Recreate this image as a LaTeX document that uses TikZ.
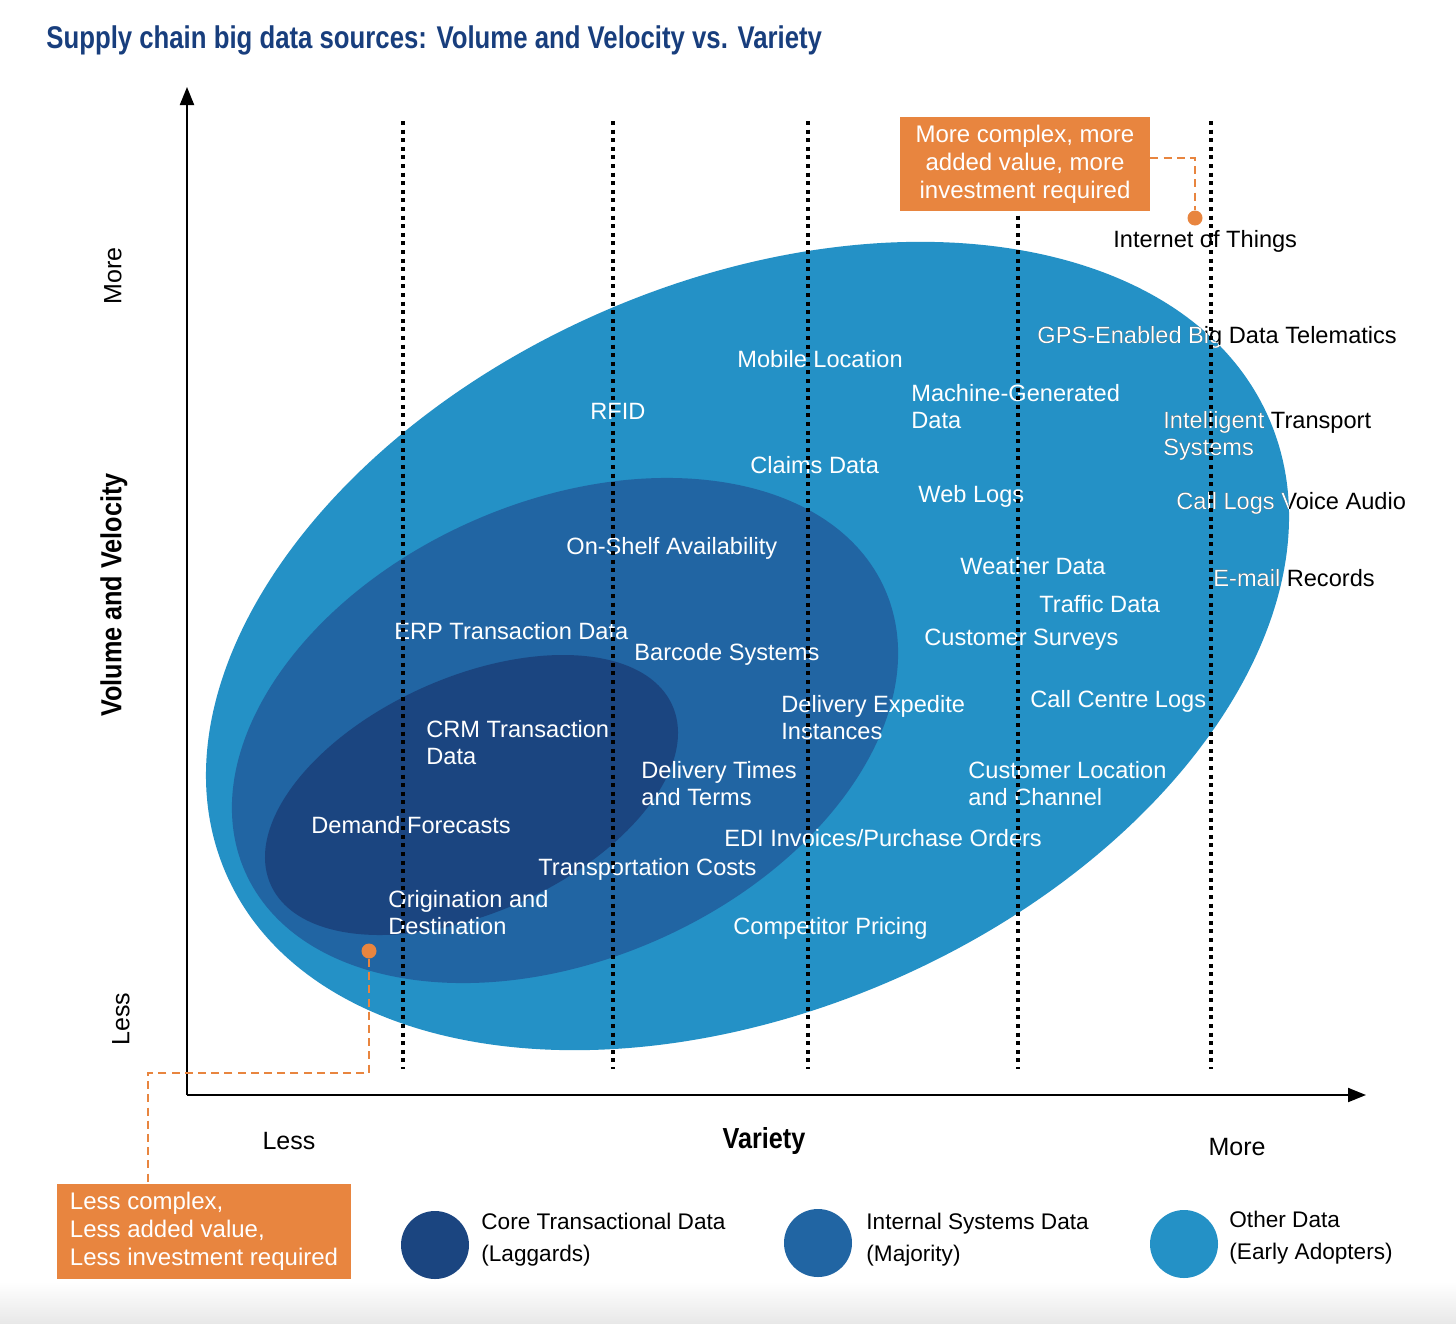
\documentclass[tikz,border=0pt]{standalone}
\usepackage{fontspec}
\setmainfont{Liberation Sans}
\newfontfamily\condfont[FakeStretch=0.87]{Liberation Sans}
\newfontfamily\titlefont[FakeStretch=0.82]{Liberation Sans}
\usetikzlibrary{arrows.meta}
\definecolor{outerc}{HTML}{2491C6}
\definecolor{midc}{HTML}{2165A3}
\definecolor{innerc}{HTML}{1B4580}
\definecolor{orangec}{HTML}{E8853F}
\definecolor{titlec}{HTML}{183E7D}
\begin{document}
\begin{tikzpicture}[x=0.5pt,y=-0.5pt,
  lbl/.style={anchor=west,inner sep=0pt,align=left,text=white,font=\fontsize{11.8}{13.5}\selectfont},
  blbl/.style={lbl,text=black},
  vline/.style={draw=black,line width=1.7pt,dash pattern=on 2pt off 2.3pt},
  axisline/.style={draw=black,line width=1pt,-{Triangle[length=9pt,width=7pt]}},
  obox/.style={fill=orangec,text=white,inner sep=0pt,font=\fontsize{12}{14}\selectfont},
  odash/.style={draw=orangec,line width=1pt,dash pattern=on 4pt off 2.6pt},
  odot/.style={circle,fill=orangec,inner sep=0pt,minimum size=7.5pt},
  axlbl/.style={inner sep=0pt,font=\fontsize{12.5}{14}\selectfont},
  leg/.style={anchor=west,inner sep=0pt,align=left,font=\fontsize{11.3}{16}\selectfont},
  legdot/.style={circle,inner sep=0pt,minimum size=34pt}
]
\useasboundingbox (0,0) rectangle (1456,1323);
\fill[white] (0,0) rectangle (1456,1323);
\shade[top color=white,bottom color=black!9] (0,1282) rectangle (1456,1323);

% title
\node[anchor=west,inner sep=0pt,text=titlec,font=\titlefont\bfseries\fontsize{15.7}{17}\selectfont] (title) at (46,40) {Supply chain big data sources: Volume and Velocity vs. Variety};

% ellipses
\fill[outerc,rotate around={23.6:(747.5,646)}] (747.5,646) ellipse [x radius=284.5pt,y radius=182.15pt];
\fill[midc,rotate around={23.8:(565,730.5)}] (565,730.5) ellipse [x radius=174.85pt,y radius=114.45pt];
\fill[innerc,rotate around={24.05:(471.5,795)}] (471.5,795) ellipse [x radius=109.95pt,y radius=58.9pt];

% labels inside
\node[lbl] (rfid) at (590,411) {RFID};
\node[lbl] (mobile) at (737,359) {Mobile Location};
\node[lbl] (machine) at (911,406.5) {Machine-Generated\\Data};
\node[lbl] (claims) at (750,465) {Claims Data};
\node[lbl] (weblogs) at (918,496) {Web Logs};
\node[lbl] (shelf) at (566,548) {On-Shelf Availability};
\node[lbl] (weather) at (960,566) {Weather Data};
\node[lbl] (traffic) at (1039,604) {Traffic Data};
\node[lbl] (erp) at (394,631) {ERP Transaction Data};
\node[lbl] (surveys) at (924,640) {Customer Surveys};
\node[lbl] (barcode) at (634,654) {Barcode Systems};
\node[lbl] (expedite) at (781,717.5) {Delivery Expedite\\Instances};
\node[lbl] (callcentre) at (1030,701) {Call Centre Logs};
\node[lbl] (crm) at (426,742.5) {CRM Transaction\\Data};
\node[lbl] (deltimes) at (641,783.5) {Delivery Times\\and Terms};
\node[lbl] (custloc) at (968,784) {Customer Location\\and Channel};
\node[lbl] (demand) at (311,825) {Demand Forecasts};
\node[lbl] (edi) at (724,838) {EDI Invoices/Purchase Orders};
\node[lbl] (transport) at (538,869) {Transportation Costs};
\node[lbl] (origin) at (388,912.5) {Origination and\\Destination};
\node[lbl] (competitor) at (733,928) {Competitor Pricing};

% labels crossing the outer ellipse: black outside, white inside
\node[blbl] (iot) at (1113,241) {Internet of Things};
\node[blbl] (gps) at (1037,337) {GPS-Enabled Big Data Telematics};
\node[blbl] (its) at (1163,435.5) {Intelligent Transport\\Systems};
\node[blbl] (calllogs) at (1176,503) {Call Logs Voice Audio};
\node[blbl] (email) at (1213,578) {E-mail Records};
\begin{scope}
  \clip[rotate around={23.6:(747.5,646)}] (747.5,646) ellipse [x radius=284.5pt,y radius=182.15pt];
  \node[lbl] (gpsW) at (1037,337) {GPS-Enabled Big Data Telematics};
  \node[lbl] (itsW) at (1163,435.5) {Intelligent Transport\\Systems};
  \node[lbl] (calllogsW) at (1176,503) {Call Logs Voice Audio};
  \node[lbl] (emailW) at (1213,578) {E-mail Records};
\end{scope}

% dotted vertical lines
\foreach \xx in {403,613,808,1018,1211} {
  \draw[vline] (\xx,121) -- (\xx,1069);
}

% axes
\draw[axisline] (187,1095) -- (187,87);
\draw[axisline] (187,1095) -- (1366,1095);

% axis labels
\node[axlbl,rotate=90] (ymore) at (113,276) {More};
\node[axlbl,rotate=90,font=\condfont\bfseries\fontsize{14.5}{16}\selectfont] (ytitle) at (114,595) {Volume and Velocity};
\node[axlbl,rotate=90] (yless) at (121,1019) {Less};
\node[axlbl] (xless) at (289,1141) {Less};
\node[axlbl,font=\condfont\bfseries\fontsize{14.5}{16}\selectfont] (xtitle) at (764,1141) {Variety};
\node[axlbl] (xmore) at (1237,1147) {More};

% orange call-outs
\node[obox,minimum width=125pt,minimum height=47pt,align=center] (boxTop) at (1025,164) {More complex, more\\added value, more\\investment required};
\node[odot] (dotTop) at (1195,218) {};
\draw[odash] ([yshift=3pt]boxTop.east) -| (dotTop.north);

\node[obox,minimum width=147pt,minimum height=47.5pt,align=left] (boxBot) at (204,1231) {Less complex,\\Less added value,\\Less investment required};
\node[odot] (dotBot) at (369,951) {};
\coordinate (kink) at (148,1073);
\draw[odash] (dotBot.south) |- (kink) -- (kink |- boxBot.north);

% legend
\node[legdot,fill=innerc] (leg1) at (435,1245) {};
\node[leg] (leg1t) at (481,1240) {Core Transactional Data\\(Laggards)};
\node[legdot,fill=midc] (leg2) at (818,1243) {};
\node[leg] (leg2t) at (866,1240) {Internal Systems Data\\(Majority)};
\node[legdot,fill=outerc] (leg3) at (1184,1244) {};
\node[leg] (leg3t) at (1229,1238) {Other Data\\(Early Adopters)};
\end{tikzpicture}
\end{document}
